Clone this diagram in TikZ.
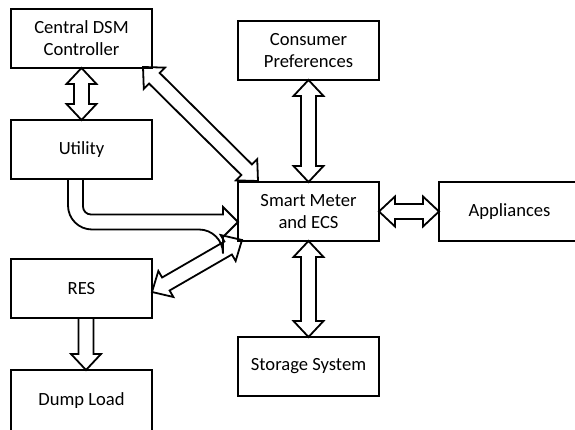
\documentclass[tikz,border=0pt]{standalone}
\usepackage{fontspec}
\setmainfont{Carlito}
\usetikzlibrary{calc,positioning}

% half widths and head length of the block arrows
\newcommand{\shafthw}{7.5pt}
\newcommand{\headhw}{15pt}
\newcommand{\headlen}{16pt}

% hollow arrow with a head at both ends, tip to tip
\newcommand{\biarrow}[2]{%
  \coordinate (ha) at ($(#1)!\headlen!(#2)$);
  \coordinate (hb) at ($(#2)!\headlen!(#1)$);
  \draw[hollow] (#1) -- ($(ha)!\headhw!90:(#2)$) -- ($(ha)!\shafthw!90:(#2)$)
    -- ($(hb)!\shafthw!-90:(#1)$) -- ($(hb)!\headhw!-90:(#1)$) -- (#2)
    -- ($(hb)!\headhw!90:(#1)$) -- ($(hb)!\shafthw!90:(#1)$)
    -- ($(ha)!\shafthw!-90:(#2)$) -- ($(ha)!\headhw!-90:(#2)$) -- cycle;
}
% hollow arrow with one head, open at its start
\newcommand{\uniarrow}[2]{%
  \coordinate (hb) at ($(#2)!\headlen!(#1)$);
  \draw[hollow] ($(#1)!\shafthw!90:(#2)$) -- ($(hb)!\shafthw!-90:(#1)$)
    -- ($(hb)!\headhw!-90:(#1)$) -- (#2) -- ($(hb)!\headhw!90:(#1)$)
    -- ($(hb)!\shafthw!90:(#1)$) -- ($(#1)!\shafthw!-90:(#2)$);
}

\begin{document}
\begin{tikzpicture}[x=1pt, y=-1pt,
  box/.style={draw, line width=2pt, minimum width=141pt, minimum height=59pt, outer sep=0pt, align=center, font=\fontsize{18.6}{22}\selectfont},
  hollow/.style={draw, line width=1.8pt}]
\useasboundingbox (0,0) rectangle (575,430);

% left column
\node[box] (dsm) at (81.5,38.5) {Central DSM\\Controller};
\node[box, below=52pt of dsm] (util) {Utility};
\node[box, below=80pt of util] (res) {RES};
\node[box, below=52pt of res, minimum height=62pt] (dump) {Dump Load};

% meter and what hangs off it
\node[box] (meter) at (308.5,211.5) {Smart Meter\\and ECS};
\node[box, above=102pt of meter] (pref) {Consumer\\Preferences};
\node[box, below=96pt of meter] (store) {Storage System};
\node[box, right=60pt of meter] (appl) {Appliances};

% arrow tips off the anchors
\coordinate (dsmtip) at ([xshift=-9pt,yshift=1pt]dsm.south east);
\coordinate (mtop) at ([xshift=20pt,yshift=1pt]meter.north west);
\coordinate (restip) at ([yshift=-3.5pt]res.east);
\coordinate (mbot) at ([xshift=4pt,yshift=1pt]meter.south west);
\coordinate (resout) at ([xshift=4.5pt]res.south);
\coordinate (dumpin) at ([xshift=4.5pt]dump.north);
\coordinate (utip) at ([yshift=-10.5pt]meter.west);

\biarrow{dsm.south}{util.north}
\biarrow{dsmtip}{mtop}
\biarrow{pref.south}{meter.north}
\biarrow{meter.south}{store.north}
\biarrow{meter.east}{appl.west}
\biarrow{restip}{mbot}
\uniarrow{resout}{dumpin}

% bent feed from the utility
\draw[hollow] ([xshift=-13.5pt]util.south) [rounded corners=24pt] |- ([xshift=-15pt,yshift=-18pt]meter.west)
  [sharp corners] -- ++(0,7.5) -- (utip) -- ++(-15,-15) -- ++(0,7.5)
  [rounded corners=8pt] -| ([xshift=1.5pt]util.south);
\end{tikzpicture}
\end{document}
